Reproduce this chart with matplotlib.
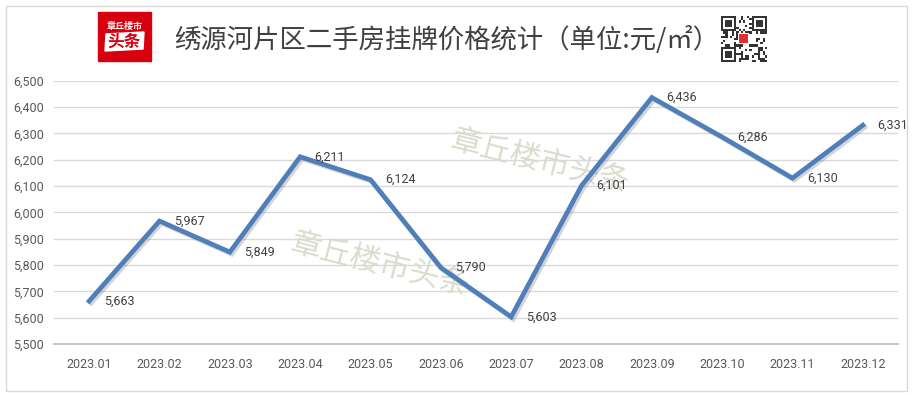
import matplotlib.pyplot as plt
import matplotlib.patheffects as pe
from matplotlib.patches import Rectangle, Polygon
from matplotlib.ticker import FuncFormatter

plt.rcParams['font.family'] = ['Roboto', 'DejaVu Sans', 'Noto Sans CJK SC']
cjk = ['Noto Sans CJK SC', 'DejaVu Sans']

# data
months = ['2023.01', '2023.02', '2023.03', '2023.04', '2023.05', '2023.06',
          '2023.07', '2023.08', '2023.09', '2023.10', '2023.11', '2023.12']
prices = [5663, 5967, 5849, 6211, 6124, 5790, 5603, 6101, 6436, 6286, 6130, 6331]
yticks = list(range(5500, 6501, 100))
title = '绣源河片区二手房挂牌价格统计（单位:元/㎡）'
watermark = '章丘楼市头条'

W, H = 914, 395
fig = plt.figure(figsize=(W / 100, H / 100), dpi=100)

# overlay in pixel coords for the decorations
deco = fig.add_axes([0, 0, 1, 1], zorder=0)
deco.set_xlim(0, W)
deco.set_ylim(H, 0)
deco.axis('off')
deco.add_patch(Rectangle((6, 6), 901, 385, fill=False, ec='#d9d9d9', lw=1))

# logo
deco.add_patch(Rectangle((98, 12), 53, 49, color='#d7000f'))
deco.text(124.5, 26, '章丘楼市', family=cjk, fontsize=6.5, color='white',
          ha='center', va='center', weight='bold')
deco.add_patch(Polygon([(106, 34), (144, 32), (143, 49), (105, 51)], color='white'))
deco.text(124.5, 41.5, '头条', family=cjk, fontsize=12, color='#d7000f',
          ha='center', va='center', weight='bold')

deco.text(447, 40, title, family=cjk, fontsize=19, color='#404040',
          ha='center', va='center')

# qr-ish block
qx, qy, n = 721, 16, 21
m = 46 / n
for i in range(n):
    for j in range(n):
        finder = (i < 7 and j < 7) or (i < 7 and j >= n - 7) or (i >= n - 7 and j < 7)
        if finder:
            a, b = i % (n - 7) if i >= 7 else i, j % (n - 7) if j >= 7 else j
            on = max(abs(a - 3), abs(b - 3)) in (0, 1, 3)
        else:
            on = ((i * 7 + j * 13) ^ (i * j)) % 3 == 0
        if on:
            deco.add_patch(Rectangle((qx + j * m, qy + i * m), m, m, color='#333333', lw=0))
deco.add_patch(Rectangle((738, 33), 11, 11, color='white', lw=0))
deco.add_patch(Rectangle((739, 34), 9, 9, color='#e03030', lw=0))

# watermarks
deco.text(380, 265, watermark, family=cjk, fontsize=22, color='#d8ddcc',
          ha='center', va='center', rotation=-14)
deco.text(540, 162, watermark, family=cjk, fontsize=22, color='#d8ddcc',
          ha='center', va='center', rotation=-14)

ax = fig.add_axes([54 / W, 1 - 344 / H, (898 - 54) / W, (344 - 80.7) / H], zorder=1)
ax.patch.set_alpha(0)
x = list(range(len(months)))
ax.plot(x, prices, color='#4f7fba', lw=3.4, solid_joinstyle='miter', zorder=3,
        path_effects=[pe.SimpleLineShadow(offset=(1.5, -1.5), shadow_color='#888888', alpha=0.35),
                      pe.Normal()])
for xi, v in zip(x, prices):
    ax.annotate(f'{v:,}', (xi, v), xytext=(10.5, 0), textcoords='offset points',
                ha='left', va='center', fontsize=9, color='#404040', zorder=4)

ax.set_xlim(-0.5, len(months) - 0.5)
ax.set_ylim(5500, 6500)
ax.set_yticks(yticks)
ax.yaxis.set_major_formatter(FuncFormatter(lambda v, p: f'{int(v):,}'))
ax.set_xticks(x)
ax.set_xticklabels(months)
ax.tick_params(axis='both', length=0, labelsize=9, labelcolor='#595959')
ax.tick_params(axis='y', pad=7)
ax.tick_params(axis='x', pad=10)
ax.grid(axis='y', color='#d9d9d9', lw=1)
ax.set_axisbelow(True)
for s in ['top', 'right', 'left']:
    ax.spines[s].set_visible(False)
ax.spines['bottom'].set_color('#bfbfbf')
ax.spines['bottom'].set_linewidth(1.3)

fig.savefig('out.png', dpi=100)
